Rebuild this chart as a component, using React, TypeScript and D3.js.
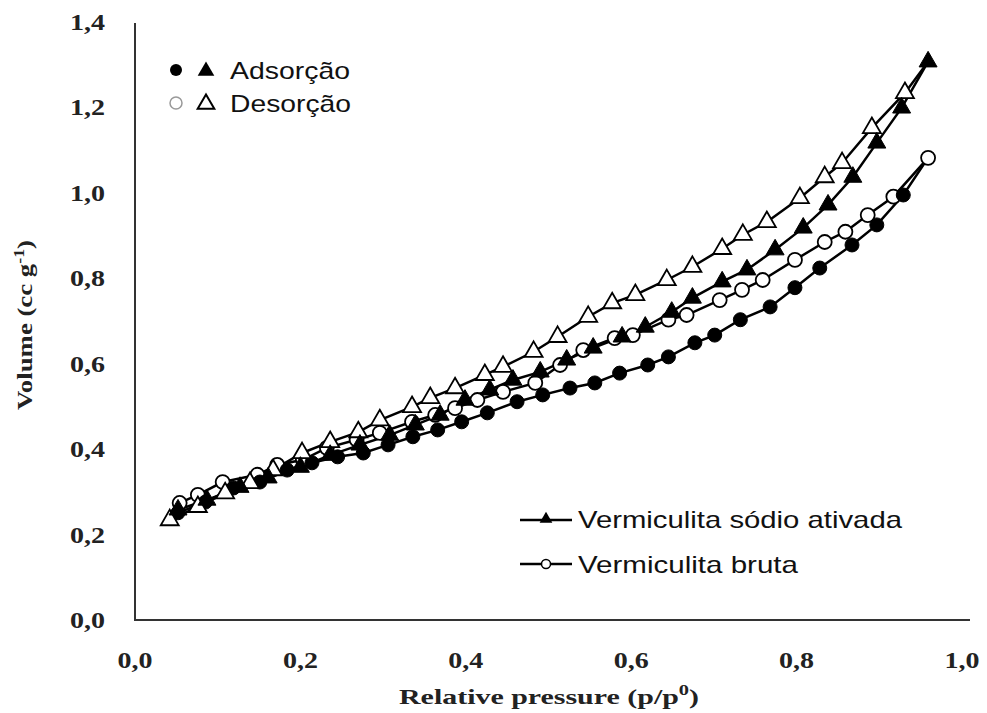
import React from "react";
import * as d3 from "d3";

const sodioAdsX = [0.052,0.087,0.127,0.161,0.200,0.236,0.272,0.308,0.339,0.369,0.399,0.429,0.457,0.490,0.522,0.554,0.589,0.617,0.649,0.674,0.710,0.740,0.774,0.808,0.838,0.868,0.897,0.927,0.959];
const sodioAdsY = [0.258,0.281,0.311,0.333,0.358,0.386,0.410,0.433,0.457,0.480,0.515,0.539,0.562,0.581,0.609,0.637,0.663,0.686,0.721,0.754,0.792,0.820,0.867,0.918,0.972,1.037,1.117,1.199,1.307];

const sodioDesX = [0.959,0.931,0.891,0.855,0.834,0.804,0.764,0.735,0.710,0.674,0.643,0.605,0.577,0.548,0.511,0.482,0.445,0.423,0.387,0.357,0.335,0.296,0.270,0.236,0.202,0.167,0.139,0.109,0.076,0.042];
const sodioDesY = [1.307,1.234,1.152,1.070,1.037,0.988,0.932,0.902,0.869,0.827,0.796,0.761,0.742,0.710,0.663,0.628,0.593,0.574,0.543,0.520,0.499,0.468,0.440,0.417,0.391,0.351,0.321,0.297,0.265,0.234];

const brutaAdsX = [0.052,0.085,0.119,0.151,0.184,0.214,0.245,0.276,0.306,0.336,0.366,0.395,0.426,0.462,0.493,0.526,0.556,0.586,0.620,0.645,0.677,0.701,0.732,0.768,0.798,0.828,0.867,0.897,0.929,0.959];
const brutaAdsY = [0.251,0.276,0.309,0.323,0.351,0.368,0.382,0.391,0.410,0.429,0.445,0.464,0.485,0.511,0.527,0.543,0.555,0.578,0.597,0.616,0.649,0.667,0.703,0.733,0.778,0.824,0.878,0.925,0.995,1.082];

const brutaDesX = [0.959,0.917,0.886,0.859,0.834,0.798,0.759,0.734,0.707,0.667,0.645,0.602,0.580,0.542,0.514,0.484,0.445,0.414,0.387,0.363,0.335,0.296,0.268,0.232,0.203,0.172,0.148,0.106,0.076,0.054];
const brutaDesY = [1.082,0.991,0.948,0.909,0.885,0.843,0.796,0.773,0.749,0.714,0.703,0.667,0.660,0.632,0.597,0.555,0.534,0.515,0.496,0.480,0.464,0.438,0.422,0.403,0.375,0.363,0.340,0.323,0.293,0.274];

const xTicks = [0, 0.2, 0.4, 0.6, 0.8, 1.0];
const yTicks = [0, 0.2, 0.4, 0.6, 0.8, 1.0, 1.2, 1.4];

const fmt = (v: number) => v.toFixed(1).replace(".", ",");

export default function App() {
  const W = 987, H = 713;
  const x = d3.scaleLinear().domain([0, 1]).range([135, 962]);
  const y = d3.scaleLinear().domain([0, 1.4]).range([620, 22]);
  const line = d3.line<[number, number]>().x(d => x(d[0])).y(d => y(d[1]));
  const zip = (a: number[], b: number[]) => a.map((v, i) => [v, b[i]] as [number, number]);

  const sA = zip(sodioAdsX, sodioAdsY);
  const sD = zip(sodioDesX, sodioDesY);
  const bA = zip(brutaAdsX, brutaAdsY);
  const bD = zip(brutaDesX, brutaDesY);

  const tri = d3.symbol().type(d3.symbolTriangle).size(140)() as string;
  const triLeg = d3.symbol().type(d3.symbolTriangle).size(120)() as string;
  const serif = "'Liberation Serif', 'Times New Roman', serif";
  const sans = "'Liberation Sans', Arial, sans-serif";

  return (
    <svg width={W} height={H} style={{ position: "absolute", left: 0, top: 0, background: "#fff" }}>
      <rect width={W} height={H} fill="#fff" />
      {/* axes */}
      <line x1={135} y1={23} x2={135} y2={621} stroke="#333" strokeWidth={2} />
      <line x1={134} y1={620} x2={970} y2={620} stroke="#333" strokeWidth={2} />
      {yTicks.map(t => (
        <text key={"y" + t} x={105} y={y(t) + 8} textAnchor="end" fontFamily={serif} fontWeight="bold" fontSize={23} fill="#222" textLength={35} lengthAdjust="spacingAndGlyphs">{fmt(t)}</text>
      ))}
      {xTicks.map(t => (
        <text key={"x" + t} x={x(t)} y={668} textAnchor="middle" fontFamily={serif} fontWeight="bold" fontSize={23} fill="#222" textLength={35} lengthAdjust="spacingAndGlyphs">{fmt(t)}</text>
      ))}
      <text x={399} y={704} fontFamily={serif} fontWeight="bold" fontSize={22} fill="#222" textLength={300} lengthAdjust="spacingAndGlyphs">
        Relative pressure (p/p<tspan dy={-9} fontSize={15}>0</tspan><tspan dy={9}>)</tspan>
      </text>
      <text transform="translate(32,410) rotate(-90)" fontFamily={serif} fontWeight="bold" fontSize={21} fill="#222" textLength={170} lengthAdjust="spacingAndGlyphs">
        Volume (cc g<tspan dy={-8} fontSize={14}>-1</tspan><tspan dy={8}>)</tspan>
      </text>

      {/* lines */}
      {[sD, sA, bD, bA].map((d, i) => (
        <path key={"l" + i} d={line(d) as string} fill="none" stroke="#000" strokeWidth={2.5} />
      ))}
      {/* markers */}
      {bD.map((d, i) => (
        <circle key={"bd" + i} cx={x(d[0])} cy={y(d[1])} r={7} fill="#fff" stroke="#000" strokeWidth={1.8} />
      ))}
      {bA.slice(0, -1).map((d, i) => (
        <circle key={"ba" + i} cx={x(d[0])} cy={y(d[1])} r={7} fill="#000" stroke="#000" strokeWidth={1} />
      ))}
      {sD.slice(1).map((d, i) => (
        <path key={"sd" + i} d={tri} transform={`translate(${x(d[0])},${y(d[1])})`} fill="#fff" stroke="#000" strokeWidth={1.8} />
      ))}
      {sA.map((d, i) => (
        <path key={"sa" + i} d={tri} transform={`translate(${x(d[0])},${y(d[1])})`} fill="#000" stroke="#000" strokeWidth={1} />
      ))}

      {/* top-left legend */}
      <circle cx={176} cy={70} r={6} fill="#000" />
      <path d={triLeg} transform="translate(206,71)" fill="#000" />
      <text x={230} y={79} fontFamily={sans} fontSize={24} fill="#111" textLength={120} lengthAdjust="spacingAndGlyphs">Adsorção</text>
      <circle cx={176} cy={103} r={6} fill="#fff" stroke="#999" strokeWidth={1.5} />
      <path d={triLeg} transform="translate(206,104)" fill="#fff" stroke="#000" strokeWidth={2} />
      <text x={230} y={112} fontFamily={sans} fontSize={24} fill="#111" textLength={121} lengthAdjust="spacingAndGlyphs">Desorção</text>

      {/* bottom-right legend */}
      <line x1={520} y1={520} x2={572} y2={520} stroke="#000" strokeWidth={2.5} />
      <path d={d3.symbol().type(d3.symbolTriangle).size(70)() as string} transform="translate(546,519)" fill="#000" />
      <text x={578} y={528} fontFamily={sans} fontSize={24} fill="#111" textLength={324} lengthAdjust="spacingAndGlyphs">Vermiculita sódio ativada</text>
      <line x1={520} y1={564} x2={572} y2={564} stroke="#000" strokeWidth={2.5} />
      <circle cx={546} cy={564} r={4.5} fill="#fff" stroke="#000" strokeWidth={1.5} />
      <text x={578} y={573} fontFamily={sans} fontSize={24} fill="#111" textLength={220} lengthAdjust="spacingAndGlyphs">Vermiculita bruta</text>
    </svg>
  );
}
